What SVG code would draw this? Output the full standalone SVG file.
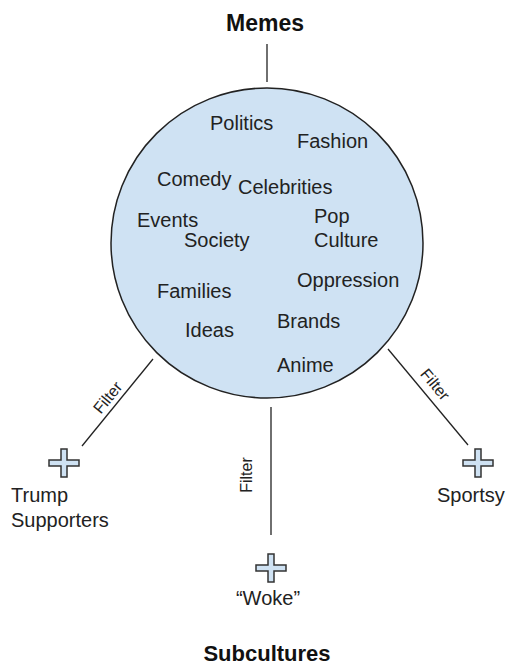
<svg xmlns="http://www.w3.org/2000/svg" width="507" height="665" viewBox="0 0 507 665">
  <style>
    text { font-family: "Liberation Sans", Arial, sans-serif; fill: #222; }
    .title { font-weight: bold; text-anchor: middle; fill: #111; }
    .topic { font-size: 20px; }
    .label { font-size: 20px; }
    .edge { font-size: 16px; text-anchor: middle; }
    .link { stroke: #222; stroke-width: 1.3; fill: none; }
    .plus { fill: #cfe2f3; stroke: #333; stroke-width: 1.5; stroke-linejoin: miter; }
  </style>
  <defs>
    <path id="plus" class="plus" d="M-3,-14 L3,-14 L3,-3 L15,-3 L15,3 L3,3 L3,14 L-3,14 L-3,3 L-15,3 L-15,-3 L-3,-3 Z"/>
  </defs>

  <rect width="507" height="665" fill="#ffffff"/>

  <!-- connectors -->
  <g id="connectors">
    <line class="link" x1="267" y1="44" x2="267" y2="82"/>
    <line class="link" x1="153" y1="359" x2="82" y2="446"/>
    <line class="link" x1="388" y1="349" x2="468" y2="445"/>
    <line class="link" x1="271" y1="407" x2="271" y2="535"/>
    <text class="edge" transform="translate(112,401) rotate(-50.8)">Filter</text>
    <text class="edge" transform="translate(431,388) rotate(50.2)">Filter</text>
    <text class="edge" transform="translate(252,475) rotate(-90)">Filter</text>
  </g>

  <!-- headings -->
  <g id="memes-title">
    <text class="title" x="265" y="31" font-size="23">Memes</text>
  </g>
  <g id="subcultures-title">
    <text class="title" x="267" y="661" font-size="22">Subcultures</text>
  </g>

  <!-- meme topics -->
  <g id="memes">
    <ellipse cx="267" cy="243" rx="156" ry="155" fill="#cfe2f3" stroke="#222" stroke-width="1.5"/>
    <text class="topic" x="210" y="130">Politics</text>
    <text class="topic" x="297" y="148">Fashion</text>
    <text class="topic" x="157" y="186">Comedy</text>
    <text class="topic" x="238" y="194">Celebrities</text>
    <text class="topic" x="137" y="227">Events</text>
    <text class="topic" x="184" y="247">Society</text>
    <text class="topic" x="314" y="223">Pop</text>
    <text class="topic" x="314" y="247">Culture</text>
    <text class="topic" x="297" y="287">Oppression</text>
    <text class="topic" x="157" y="298">Families</text>
    <text class="topic" x="185" y="337">Ideas</text>
    <text class="topic" x="277" y="328">Brands</text>
    <text class="topic" x="277" y="372">Anime</text>
  </g>

  <!-- subcultures -->
  <g id="trump-supporters">
    <use href="#plus" x="64" y="463"/>
    <text class="label" x="11" y="502">Trump</text>
    <text class="label" x="11" y="527">Supporters</text>
  </g>
  <g id="woke">
    <use href="#plus" x="271" y="568"/>
    <text class="label" x="268" y="605" text-anchor="middle">“Woke”</text>
  </g>
  <g id="sportsy">
    <use href="#plus" x="478" y="463"/>
    <text class="label" x="437" y="502">Sportsy</text>
  </g>
</svg>
